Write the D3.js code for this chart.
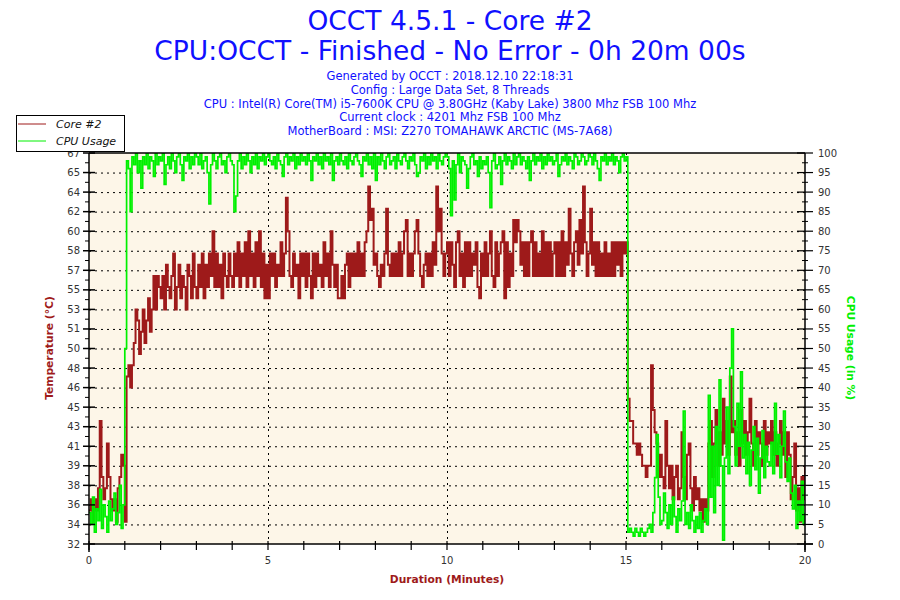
<!DOCTYPE html>
<html><head><meta charset="utf-8">
<script src="https://cdn.jsdelivr.net/npm/d3@7"></script>
<style>body{margin:0;background:#fff}</style>
</head><body><svg id="c" width="900" height="600"></svg>
<script>
// sample spacing in minutes
const sampleStep = 0.05;
// Core #2 temperature (°C), one value every 0.05 min
const tempC = [
35,36,34,36,35,37,43,38,36,37,41,38,36,35,36,34,37,38,40,39,
34,47,48,46,48,50,53,52,49,51,53,50,52,54,51,53,56,53,56,55,
54,56,53,57,55,54,56,58,53,55,57,54,56,55,53,57,56,54,58,55,
54,57,55,58,54,57,55,58,56,60,55,58,55,57,54,58,56,55,58,56,
55,58,56,59,55,58,56,59,55,60,56,58,55,59,56,60,55,58,54,57,
54,58,56,58,55,57,56,59,56,58,63,60,56,55,58,56,57,54,58,56,
58,55,58,56,54,58,55,58,56,57,55,59,56,58,55,60,57,55,57,54,
54,56,54,57,58,55,58,56,58,56,59,56,58,56,59,60,64,61,62,57,
58,56,55,57,56,58,62,57,56,58,56,58,56,59,56,58,60,61,56,58,
56,58,60,61,58,56,55,57,58,56,58,56,59,57,64,60,62,58,56,58,
59,56,59,57,55,59,60,56,58,55,59,56,59,56,58,57,59,55,54,58,
56,59,56,58,60,56,55,59,56,58,59,60,54,59,55,58,56,61,59,61,
60,57,59,56,59,56,59,60,56,59,56,58,56,60,56,59,56,59,56,58,
59,56,59,56,60,56,59,57,62,58,56,59,60,57,61,58,64,59,56,58,
62,57,59,56,59,56,58,56,59,56,58,56,59,56,59,57,59,56,59,58,
59,45,43,43,41,41,40,41,40,39,39,38,39,39,48,44,42,41,38,40,
38,37,43,39,37,39,36,38,39,36,37,42,38,36,40,41,37,35,38,36,
37,35,36,34,36,35,41,43,38,41,44,39,42,40,45,41,43,40,47,42,
43,40,42,39,44,41,43,40,42,45,41,39,43,40,42,41,39,43,40,42,
41,43,40,42,39,41,43,40,42,38,42,40,36,38,41,35,37,34,38,36,
39];
// CPU usage (%), one value every 0.05 min
const cpuPct = [
8,5,12,3,9,6,14,4,10,7,3,11,6,9,13,5,8,15,4,10,
50,98,96,85,99,97,100,95,98,91,99,97,100,96,99,98,94,100,97,99,
98,100,92,97,99,96,100,98,95,99,100,97,93,99,98,100,96,99,97,100,
99,97,100,96,98,99,95,87,97,100,98,96,99,100,97,98,95,99,100,98,
97,85,89,98,100,96,99,97,100,98,95,99,97,100,96,99,98,100,97,99,
100,98,97,99,96,100,98,97,94,99,100,97,99,98,100,96,99,97,100,98,
99,97,100,98,93,99,98,100,97,99,96,100,98,99,97,100,93,98,99,97,
100,98,97,99,96,100,98,97,99,100,98,97,94,99,98,100,97,99,96,100,
93,99,97,100,98,96,99,100,97,98,99,96,100,98,97,99,100,98,96,99,
98,100,97,94,95,99,98,100,96,99,97,100,98,99,96,100,98,97,99,100,
99,96,84,98,88,97,100,95,99,98,97,91,96,99,100,97,98,94,99,96,
98,97,99,95,86,98,100,96,97,99,92,98,100,97,99,98,96,100,97,99,
100,97,99,98,96,99,93,98,100,97,99,98,100,96,99,97,100,98,99,97,
98,100,94,97,99,98,100,97,99,98,96,100,99,97,98,100,99,97,98,100,
99,97,100,98,96,93,99,98,100,97,99,98,100,97,99,98,95,99,100,98,
99,3,4,3,2,4,3,2,4,3,2,3,4,5,3,8,17,28,12,5,
6,13,8,4,10,5,12,7,3,9,6,11,34,5,8,4,10,6,3,7,
4,8,3,6,9,5,38,12,25,8,30,15,42,20,1,22,35,18,45,55,
30,20,36,25,44,22,28,18,26,15,24,30,19,27,13,22,29,17,25,21,
20,26,18,36,23,28,17,25,34,21,16,22,13,9,15,4,11,6,16,5,
8];
const tempTickLabels = [32,34,36,38,39,41,43,45,46,48,50,51,53,55,57,58,60,62,64,65,67];
const cpuTickLabels = [0,5,10,15,20,25,30,35,40,45,50,55,60,65,70,75,80,85,90,95,100];
const minuteTickLabels = [0,5,10,15,20];
const titleLines = ["OCCT 4.5.1 - Core #2", "CPU:OCCT - Finished - No Error - 0h 20m 00s"];
const infoLines = [
  "Generated by OCCT : 2018.12.10 22:18:31",
  "Config : Large Data Set, 8 Threads",
  "CPU : Intel(R) Core(TM) i5-7600K CPU @ 3.80GHz (Kaby Lake) 3800 Mhz FSB 100 Mhz",
  "Current clock : 4201 Mhz FSB 100 Mhz",
  "MotherBoard : MSI: Z270 TOMAHAWK ARCTIC (MS-7A68)"
];
const seriesNames = ["Core #2", "CPU Usage"];

const svg = d3.select("#c");
const L = 89, R = 805, T = 153, B = 544;
const red = "#9e1a1a", green = "#00f000", blue = "#1010ff";
const font = "DejaVu Sans, Verdana, sans-serif";

const x = d3.scaleLinear().domain([0, 20]).range([L, R]);
const yT = d3.scaleLinear().domain([32, 67]).range([B, T]);
const yC = d3.scaleLinear().domain([0, 100]).range([B, T]);

// titles
svg.selectAll("text.title").data(titleLines).join("text")
  .attr("x", 450).attr("y", (d, i) => 30 + i * 30)
  .attr("text-anchor", "middle").attr("font-family", font).attr("font-size", 26.5)
  .attr("fill", blue).text(d => d);
svg.selectAll("text.info").data(infoLines).join("text")
  .attr("x", 450).attr("y", (d, i) => 80 + i * 13.8)
  .attr("text-anchor", "middle").attr("font-family", font).attr("font-size", 11.5)
  .attr("fill", blue).text(d => d);

// plot background
svg.append("rect").attr("x", L).attr("y", T).attr("width", R - L).attr("height", B - T)
  .attr("fill", "#fdf6e8");

// grid
const tempTickVals = tempTickLabels.map((d, i) => 32 + i * 1.75);
svg.append("g").selectAll("line").data(cpuTickLabels.slice(1, -1)).join("line")
  .attr("x1", L).attr("x2", R).attr("y1", d => yC(d) + 0.5).attr("y2", d => yC(d) + 0.5)
  .attr("stroke", "#000").attr("stroke-width", 1).attr("stroke-dasharray", "2,4");
svg.append("g").selectAll("line").data(minuteTickLabels.slice(1, -1)).join("line")
  .attr("x1", d => x(d) + 0.5).attr("x2", d => x(d) + 0.5).attr("y1", T).attr("y2", B)
  .attr("stroke", "#000").attr("stroke-width", 1).attr("stroke-dasharray", "2,4");

// series
const clip = svg.append("clipPath").attr("id", "pc").append("rect")
  .attr("x", L).attr("y", T).attr("width", R - L).attr("height", B - T);
const lineT = d3.line().x(i => x(i * sampleStep)).y(i => yT(tempC[i])).curve(d3.curveStepAfter);
const lineC = d3.line().x(i => x(i * sampleStep)).y(i => yC(cpuPct[i])).curve(d3.curveStepAfter);
svg.append("path").attr("d", lineT(d3.range(tempC.length))).attr("fill", "none").attr("stroke", red)
  .attr("stroke-width", 2).attr("clip-path", "url(#pc)");
svg.append("path").attr("d", lineC(d3.range(cpuPct.length))).attr("fill", "none").attr("stroke", green)
  .attr("stroke-width", 1.7).attr("clip-path", "url(#pc)");

// frame lines
svg.append("line").attr("x1", L).attr("x2", R).attr("y1", T).attr("y2", T).attr("stroke", "#000").attr("stroke-width", 1.5);
svg.append("line").attr("x1", L).attr("x2", R + 8).attr("y1", B).attr("y2", B).attr("stroke", "#000").attr("stroke-width", 1.5);
svg.append("line").attr("x1", L).attr("x2", L).attr("y1", T).attr("y2", B + 8).attr("stroke", "#000").attr("stroke-width", 1.5);
svg.append("line").attr("x1", R).attr("x2", R).attr("y1", T).attr("y2", B + 8).attr("stroke", "#000").attr("stroke-width", 1.5);

// left axis ticks
const gl = svg.append("g");
gl.selectAll("line.maj").data(tempTickVals).join("line")
  .attr("x1", L - 6).attr("x2", L + 6).attr("y1", d => yT(d)).attr("y2", d => yT(d))
  .attr("stroke", "#000").attr("stroke-width", 1.5);
gl.selectAll("line.min").data(tempTickVals.slice(0, -1).map(d => d + 0.875)).join("line")
  .attr("x1", L - 4).attr("x2", L).attr("y1", d => yT(d)).attr("y2", d => yT(d))
  .attr("stroke", "#000").attr("stroke-width", 1);
gl.selectAll("text").data(tempTickLabels).join("text")
  .attr("x", L - 9).attr("y", (d, i) => yT(tempTickVals[i]) + 3.5)
  .attr("text-anchor", "end").attr("font-family", font).attr("font-size", 10).attr("fill", "#333")
  .text(d => d);

// right axis ticks
const gr = svg.append("g");
gr.selectAll("line.maj").data(cpuTickLabels).join("line")
  .attr("x1", R - 8).attr("x2", R + 8).attr("y1", d => yC(d)).attr("y2", d => yC(d))
  .attr("stroke", "#000").attr("stroke-width", 1.2);
gr.selectAll("line.min").data(cpuTickLabels.slice(0, -1).map(d => d + 2.5)).join("line")
  .attr("x1", R - 3).attr("x2", R + 3).attr("y1", d => yC(d)).attr("y2", d => yC(d))
  .attr("stroke", "#000").attr("stroke-width", 1);
gr.selectAll("text").data(cpuTickLabels).join("text")
  .attr("x", R + 13).attr("y", d => yC(d) + 3.5)
  .attr("text-anchor", "start").attr("font-family", font).attr("font-size", 10).attr("fill", "#333")
  .text(d => d);

// bottom axis ticks
const gb = svg.append("g");
gb.selectAll("line").data(d3.range(0, 21)).join("line")
  .attr("x1", d => x(d)).attr("x2", d => x(d)).attr("y1", B - 3).attr("y2", B + 6)
  .attr("stroke", "#000").attr("stroke-width", 1.2);
gb.selectAll("text").data(minuteTickLabels).join("text")
  .attr("x", d => x(d)).attr("y", B + 20)
  .attr("text-anchor", "middle").attr("font-family", font).attr("font-size", 10).attr("fill", "#333")
  .text(d => d);

// axis titles
svg.append("text").attr("transform", "translate(53,348) rotate(-90)")
  .attr("text-anchor", "middle").attr("font-family", font).attr("font-size", 10.7).attr("font-weight", "bold")
  .attr("fill", red).text("Temperature (°C)");
svg.append("text").attr("transform", "translate(847,348) rotate(90)")
  .attr("text-anchor", "middle").attr("font-family", font).attr("font-size", 10.7).attr("font-weight", "bold")
  .attr("fill", green).text("CPU Usage (in %)");
svg.append("text").attr("x", 447).attr("y", 583)
  .attr("text-anchor", "middle").attr("font-family", font).attr("font-size", 10.7).attr("font-weight", "bold")
  .attr("fill", red).text("Duration (Minutes)");

// legend
const lg = svg.append("g");
lg.append("rect").attr("x", 16.5).attr("y", 115.5).attr("width", 108).attr("height", 36)
  .attr("fill", "#fff").attr("stroke", "#000").attr("stroke-width", 1);
const legColors = [red, green];
seriesNames.forEach((n, i) => {
  const yy = 124 + i * 17;
  lg.append("line").attr("x1", 18).attr("x2", 46).attr("y1", yy).attr("y2", yy)
    .attr("stroke", legColors[i]).attr("stroke-width", 1);
  lg.append("text").attr("x", 56).attr("y", yy + 4).attr("font-family", font).attr("font-size", 11)
    .attr("font-style", "italic").attr("fill", "#111").text(n);
});
</script>
</body></html>
